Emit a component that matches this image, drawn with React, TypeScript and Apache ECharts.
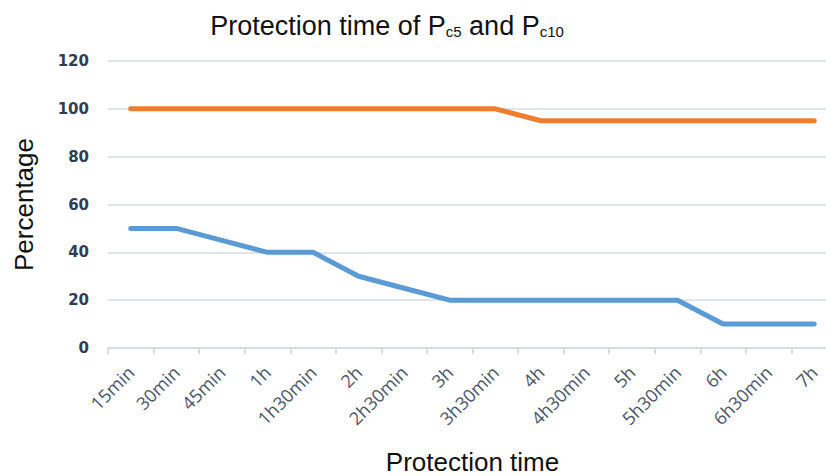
import React, { useEffect, useRef } from "react";
import * as echarts from "echarts";

const categories = ["15min", "30min", "45min", "1h", "1h30min", "2h", "2h30min", "3h", "3h30min", "4h", "4h30min", "5h", "5h30min", "6h", "6h30min", "7h"];
const pc5 = [50, 50, 45, 40, 40, 30, 25, 20, 20, 20, 20, 20, 20, 10, 10, 10];
const pc10 = [100, 100, 100, 100, 100, 100, 100, 100, 100, 95, 95, 95, 95, 95, 95, 95];
const yTicks = { min: 0, max: 120, interval: 20 };

export default function App() {
  const ref = useRef<HTMLDivElement>(null);
  useEffect(() => {
    if (!ref.current) return;
    const chart = echarts.init(ref.current, null, { renderer: "svg" });
    chart.setOption({
      animation: false,
      backgroundColor: "#ffffff",
      title: {
        text: "Protection time of P{sub|c5} and P{sub|c10}",
        left: 382,
        textAlign: "center",
        top: 7,
        textStyle: {
          fontFamily: "Liberation Sans",
          fontSize: 27,
          fontWeight: "normal",
          color: "#111111",
          rich: {
            sub: { fontFamily: "Liberation Sans", fontSize: 15, color: "#111111", padding: [12, 0, 0, 0] },
          },
        },
      },
      grid: { left: 108, top: 61, width: 729, height: 287, containLabel: false, outerBoundsMode: "none" },
      xAxis: {
        type: "category",
        data: categories,
        boundaryGap: true,
        name: "Protection time",
        nameLocation: "middle",
        nameGap: 101,
        nameTextStyle: { fontFamily: "Liberation Sans", fontSize: 26, color: "#111111" },
        axisLine: { show: true, lineStyle: { color: "#D9DDE3", width: 2 } },
        axisTick: { show: true, length: 6, lineStyle: { color: "#D9DDE3", width: 2 } },
        axisLabel: {
          rotate: 45,
          interval: 0,
          margin: 21,
          fontFamily: "Open Sans",
          fontSize: 18,
          color: "#4A5568",
        },
        splitLine: { show: false },
      },
      yAxis: {
        type: "value",
        min: yTicks.min,
        max: yTicks.max,
        interval: yTicks.interval,
        name: "Percentage",
        nameLocation: "middle",
        nameRotate: 90,
        nameGap: 71,
        nameTextStyle: { fontFamily: "Liberation Sans", fontSize: 26, color: "#111111" },
        axisLine: { show: false },
        axisTick: { show: false },
        axisLabel: {
          margin: 19,
          fontFamily: "DejaVu Sans",
          fontWeight: "bold",
          fontSize: 15,
          color: "#2E3D55",
        },
        splitLine: { show: true, lineStyle: { color: "#E1E4EA", width: 2 } },
      },
      series: [
        {
          name: "Pc5",
          type: "line",
          data: pc5,
          showSymbol: false,
          symbol: "none",
          lineStyle: { color: "#5B9BD5", width: 5, cap: "round", join: "round" },
          itemStyle: { color: "#5B9BD5" },
        },
        {
          name: "Pc10",
          type: "line",
          data: pc10,
          showSymbol: false,
          symbol: "none",
          lineStyle: { color: "#ED7D31", width: 5, cap: "round", join: "round" },
          itemStyle: { color: "#ED7D31" },
        },
      ],
    });
    return () => chart.dispose();
  }, []);
  return <div ref={ref} style={{ width: 826, height: 476, position: "absolute", left: 0, top: 0 }} />;
}
